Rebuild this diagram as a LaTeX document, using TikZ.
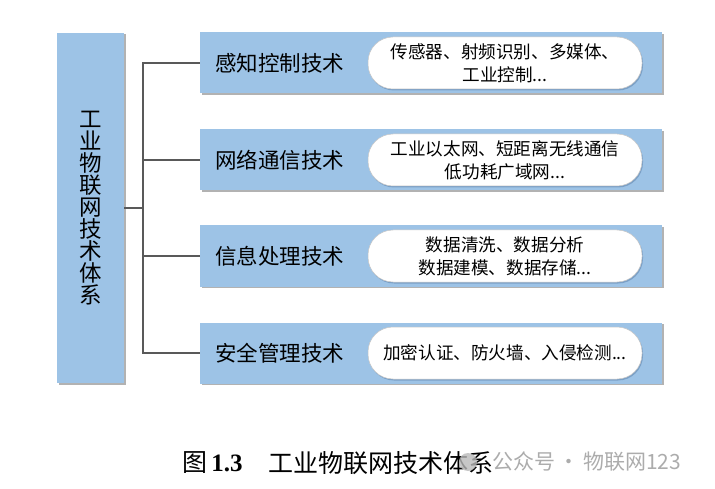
\documentclass[tikz,border=0pt]{standalone}
\usepackage{fontspec}
\setmainfont{Liberation Serif}
\newfontfamily\cjk{Noto Sans CJK SC}
\usetikzlibrary{shadows}

\definecolor{boxblue}{HTML}{9DC3E6}
\definecolor{linkgray}{HTML}{595959}
\definecolor{pillshade}{HTML}{5B7FA8}

\begin{document}
\begin{tikzpicture}[x = 1pt, y = -1pt]
	% Styles for the boxes, pills and lines
	\tikzset{catbox/.style = {fill = boxblue, minimum width = 462pt, minimum height = 61pt, inner sep = 0pt,
			drop shadow = {shadow xshift = 1.5pt, shadow yshift = -1.5pt, opacity = 0.3, fill = black}}}
	\tikzset{pill/.style = {fill = white, draw = gray!45, line width = 0.5pt, rounded corners = 25pt,
			minimum width = 274pt, minimum height = 52pt, inner sep = 0pt, align = center,
			font = \cjk\fontsize{17.6}{23}\selectfont,
			drop shadow = {shadow xshift = 1pt, shadow yshift = -1.5pt, opacity = 0.5, fill = pillshade}}}
	\tikzset{cattext/.style = {anchor = west, inner sep = 0pt, font = \cjk\fontsize{21.5}{22}\selectfont}}
	\tikzset{link/.style = {draw = linkgray, line width = 1.6pt}}

	\useasboundingbox (0, 0) rectangle (715, 489);

	% Draw the root box
	\node[fill = boxblue, minimum width = 67pt, minimum height = 350pt, inner sep = 0pt, align = center,
		font = \cjk\fontsize{22.5}{22}\selectfont,
		drop shadow = {shadow xshift = 1.5pt, shadow yshift = -1.5pt, opacity = 0.3, fill = black}]
		(root) at (90.5, 208) {工\\业\\物\\联\\网\\技\\术\\体\\系};

	% Draw the four technology boxes
	\node[catbox] (sense) at (431, 63) {};
	\node[catbox] (net) at (431, 160) {};
	\node[catbox] (proc) at (431, 256) {};
	\node[catbox] (safe) at (431, 353) {};

	\node[cattext] (senseL) at ([xshift = 15pt]sense.west) {感知控制技术};
	\node[cattext] (netL) at ([xshift = 15pt]net.west) {网络通信技术};
	\node[cattext] (procL) at ([xshift = 15pt]proc.west) {信息处理技术};
	\node[cattext] (safeL) at ([xshift = 15pt]safe.west) {安全管理技术};

	% Draw the white pills
	\node[pill] (senseP) at (505, 63) {传感器、射频识别、多媒体、\\工业控制...};
	\node[pill] (netP) at (505, 160) {工业以太网、短距离无线通信\\低功耗广域网...};
	\node[pill] (procP) at (505, 256) {数据清洗、数据分析\\数据建模、数据存储...};
	\node[pill] (safeP) at (505, 353) {加密认证、防火墙、入侵检测...};

	% Draw the tree lines
	\coordinate (trunk) at (143, 208);
	\draw[link] (root.east) -- (trunk);
	\draw[link] (sense.west) -| (trunk);
	\draw[link] (net.west) -| (trunk);
	\draw[link] (proc.west) -| (trunk);
	\draw[link] (safe.west) -| (trunk);

	% Draw the caption
	\node[anchor = west, inner sep = 0pt] (figno) at (182, 463)
		{{\cjk\fontsize{25}{25}\selectfont 图}\fontsize{25}{25}\selectfont\,\textbf{1.3}};
	\node[anchor = west, inner sep = 0pt, font = \cjk\fontsize{25}{25}\selectfont] (figtitle) at (268, 463)
		{工业物联网技术体系};

	% Draw the watermark
	\fill[gray!55, opacity = 0.8] (468, 462) circle (9pt);
	\node[anchor = west, inner sep = 0pt, text = gray!65, font = \cjk\fontsize{21}{21}\selectfont] (mark) at (492, 462)
		{公众号\,·\,物联网123};
\end{tikzpicture}
\end{document}
